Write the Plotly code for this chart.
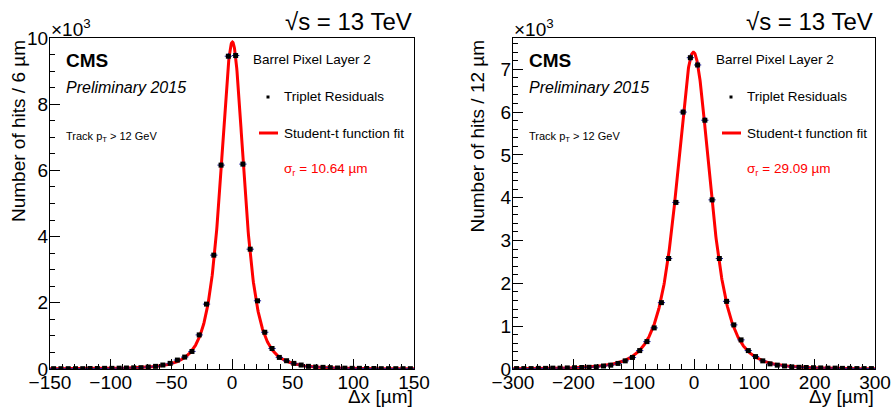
import numpy as np
import plotly.graph_objects as go

# ---------------- data (counts in units of 10^3) ----------------
# Left panel: residuals in x, 6 um bins
dx_centers = [-147, -141, -135, -129, -123, -117, -111, -105, -99, -93,
              -87, -81, -75, -69, -63, -57, -51, -45, -39, -33,
              -27, -21, -15, -9, -3, 3, 9, 15, 21, 27,
              33, 39, 45, 51, 57, 63, 69, 75, 81, 87,
              93, 99, 105, 111, 117, 123, 129, 135, 141, 147]
dx_counts = [0.01, 0.01, 0.01, 0.01, 0.01, 0.015, 0.015, 0.02, 0.02, 0.025,
             0.03, 0.035, 0.04, 0.06, 0.08, 0.12, 0.17, 0.27, 0.36, 0.53,
             1.03, 1.96, 3.44, 6.16, 9.45, 9.47, 6.19, 3.62, 2.06, 1.11,
             0.62, 0.35, 0.25, 0.17, 0.12, 0.08, 0.06, 0.05, 0.04, 0.03,
             0.025, 0.02, 0.02, 0.015, 0.015, 0.01, 0.01, 0.01, 0.01, 0.01]
dx_binwidth = 6

# Right panel: residuals in y, 12 um bins
dy_centers = [-294, -282, -270, -258, -246, -234, -222, -210, -198, -186,
              -174, -162, -150, -138, -126, -114, -102, -90, -78, -66,
              -54, -42, -30, -18, -6, 6, 18, 30, 42, 54,
              66, 78, 90, 102, 114, 126, 138, 150, 162, 174,
              186, 198, 210, 222, 234, 246, 258, 270, 282, 294]
dy_counts = [0.01, 0.01, 0.01, 0.015, 0.015, 0.02, 0.02, 0.025, 0.03, 0.035,
             0.04, 0.05, 0.07, 0.09, 0.13, 0.19, 0.27, 0.43, 0.64, 0.96,
             1.55, 2.58, 3.89, 6.00, 7.27, 7.10, 5.81, 3.95, 2.58, 1.58,
             1.03, 0.68, 0.43, 0.29, 0.19, 0.12, 0.09, 0.07, 0.05, 0.04,
             0.035, 0.03, 0.025, 0.02, 0.02, 0.015, 0.015, 0.01, 0.01, 0.01]
dy_binwidth = 12

# Student-t fit parameters: amplitude (10^3), mean, scale, degrees of freedom
fit_x = dict(amp=9.88, mu=0.3, scale=10.3, nu=2.5)
fit_y = dict(amp=7.40, mu=-1.0, scale=29.09, nu=3.0)

sigma_x_label = "10.64"
sigma_y_label = "29.09"

# ---------------- geometry helpers ----------------
W, H = 892, 409
ML, MR, MT, MB = 50, 17, 38, 40
PW, PH = W - ML - MR, H - MT - MB


def px(x):
    return (x - ML) / PW


def py(y):
    return (H - MB - y) / PH


def student_t(x, amp, mu, scale, nu):
    t = (x - mu) / scale
    return amp * (1 + t * t / nu) ** (-(nu + 1) / 2)


FONT = "Liberation Sans, Arial, Helvetica, sans-serif"
RED = "#ff0000"
ERR = "#1a1aa8"

fig = go.Figure()


def add_panel(xa, ya, centers, counts, bw, fit, xr):
    xs = np.linspace(xr[0], xr[1], 1200)
    fig.add_trace(go.Scatter(
        x=xs, y=student_t(xs, **fit), mode="lines",
        line=dict(color=RED, width=3), xaxis=xa, yaxis=ya,
        showlegend=False, hoverinfo="skip"))
    cnt = np.array(counts)
    fig.add_trace(go.Scatter(
        x=centers, y=counts, mode="markers",
        marker=dict(symbol="square", size=5, color="black"),
        error_x=dict(type="constant", value=bw / 2, color=ERR,
                     thickness=1, width=0),
        error_y=dict(type="data", array=np.sqrt(cnt * 1000) / 1000,
                     color=ERR, thickness=1, width=0),
        xaxis=xa, yaxis=ya, showlegend=False))


add_panel("x", "y", dx_centers, dx_counts, dx_binwidth, fit_x, (-150, 150))
add_panel("x2", "y2", dy_centers, dy_counts, dy_binwidth, fit_y, (-300, 300))

axis_common = dict(
    showline=True, linecolor="black", linewidth=1, mirror=True,
    ticks="inside", ticklen=10, tickwidth=1, tickcolor="black",
    showgrid=False, zeroline=False, automargin=False,
    tickfont=dict(family=FONT, size=19, color="black"),
)

left_dom = [px(50), px(414)]
right_dom = [px(513), px(875)]

fig.update_layout(
    width=W, height=H,
    margin=dict(l=ML, r=MR, t=MT, b=MB),
    paper_bgcolor="white", plot_bgcolor="white",
    font=dict(family=FONT, color="black"),
    xaxis=dict(domain=left_dom, range=[-150, 150], dtick=50, anchor="y",
               ticklabelstandoff=-4,
               minor=dict(dtick=10, ticks="inside", ticklen=5, tickcolor="black"),
               **axis_common),
    yaxis=dict(domain=[0, 1], range=[0, 10.0], dtick=2, anchor="x",
               ticklabelstandoff=-3,
               minor=dict(dtick=0.5, ticks="inside", ticklen=5, tickcolor="black"),
               **axis_common),
    xaxis2=dict(domain=right_dom, range=[-300, 300], dtick=100, anchor="y2",
                ticklabelstandoff=-4,
                minor=dict(dtick=20, ticks="inside", ticklen=5, tickcolor="black"),
                **axis_common),
    yaxis2=dict(domain=[0, 1], range=[0, 7.73], dtick=1, anchor="x2",
                ticklabelstandoff=-3,
                minor=dict(dtick=0.2, ticks="inside", ticklen=5, tickcolor="black"),
                **axis_common),
)

ann = []
shapes = []


def text(x, y, s, size, xanchor="left", yanchor="middle", color="black",
         angle=0):
    ann.append(dict(x=px(x), y=py(y), xref="paper", yref="paper", text=s,
                    showarrow=False, xanchor=xanchor, yanchor=yanchor,
                    textangle=angle,
                    font=dict(family=FONT, size=size, color=color)))


panels = [
    dict(fl=50, fr=414, ytitle="Number of hits / 6 µm", ytx=18,
         xtitle="Δx [µm]", sig=sigma_x_label),
    dict(fl=513, fr=875, ytitle="Number of hits / 12 µm", ytx=477,
         xtitle="Δy [µm]", sig=sigma_y_label),
]

for p in panels:
    fl, fr = p["fl"], p["fr"]
    leg = fl + 232  # text column of the legend block
    # exponent and energy labels above the frame
    text(fl - 1, 28, "×10<sup>3</sup>", 19)
    text(fr, 22, "√s = 13 TeV", 24, xanchor="right")
    # axis titles
    text(p["ytx"], 38, p["ytitle"], 19, xanchor="center", yanchor="top",
         angle=-90)
    text(fr + 1, 396, p["xtitle"], 19, xanchor="right")
    # CMS labels
    text(fl + 14, 60, "<b>CMS</b>", 19)
    text(fl + 14, 87, "<i>Preliminary 2015</i>", 16)
    text(fl + 14, 137, "Track p<sub>T</sub> > 12 GeV", 11)
    # legend block
    text(leg - 31, 59, "Barrel Pixel Layer 2", 13.5)
    text(leg, 97, "Triplet Residuals", 13.5)
    text(leg, 133, "Student-t function fit", 13.5)
    text(leg, 169, "σ<sub>r</sub> = " + p["sig"] + " µm", 13.5, color=RED)
    shapes.append(dict(type="rect", xref="paper", yref="paper",
                       x0=px(leg - 15.5), x1=px(leg - 12.5),
                       y0=py(98.5), y1=py(95.5),
                       fillcolor="black", line=dict(width=0)))
    shapes.append(dict(type="line", xref="paper", yref="paper",
                       x0=px(leg - 23), x1=px(leg - 4),
                       y0=py(133), y1=py(133),
                       line=dict(color=RED, width=3)))

fig.update_layout(annotations=ann, shapes=shapes)

fig.write_html("out.html")
